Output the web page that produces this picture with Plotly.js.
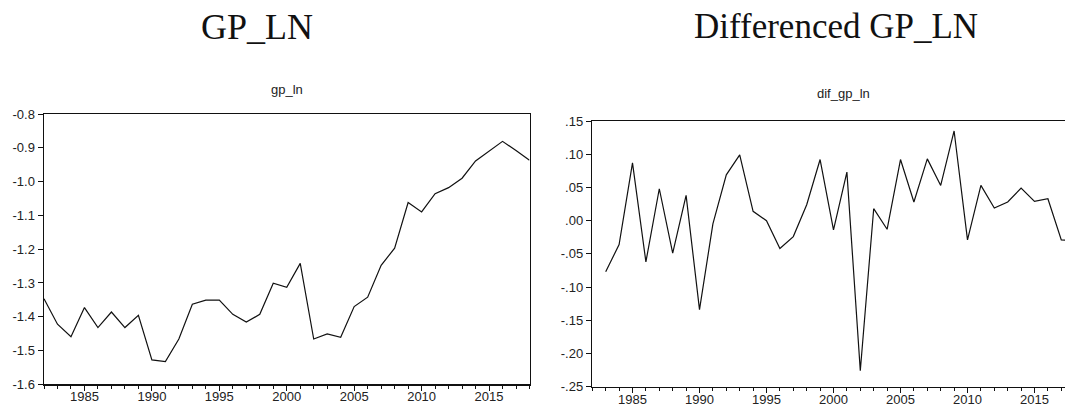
<!DOCTYPE html>
<html>
<head>
<meta charset="utf-8">
<script src="https://cdn.plot.ly/plotly-3.0.1.min.js"></script>
<style>
  html, body { margin: 0; padding: 0; background: #fff; overflow: hidden; }
  #chart { width: 1100px; height: 405px; }
</style>
</head>
<body>
<div id="chart"></div>
<script>
// Annual observations
var years = [1982, 1983, 1984, 1985, 1986, 1987, 1988, 1989, 1990, 1991,
             1992, 1993, 1994, 1995, 1996, 1997, 1998, 1999, 2000, 2001,
             2002, 2003, 2004, 2005, 2006, 2007, 2008, 2009, 2010, 2011,
             2012, 2013, 2014, 2015, 2016, 2017, 2018];

// Log level series
var gpLn = [-1.347, -1.422, -1.459, -1.373, -1.432, -1.386, -1.432, -1.396, -1.528, -1.533,
            -1.466, -1.363, -1.351, -1.351, -1.393, -1.416, -1.393, -1.301, -1.313, -1.242,
            -1.466, -1.451, -1.461, -1.370, -1.342, -1.248, -1.197, -1.062, -1.090, -1.036,
            -1.018, -0.990, -0.939, -0.910, -0.881, -0.908, -0.937];

// First difference (starts one year later)
var difYears = [1983, 1984, 1985, 1986, 1987, 1988, 1989, 1990, 1991,
                1992, 1993, 1994, 1995, 1996, 1997, 1998, 1999, 2000, 2001,
                2002, 2003, 2004, 2005, 2006, 2007, 2008, 2009, 2010, 2011,
                2012, 2013, 2014, 2015, 2016, 2017, 2018];
var difGpLn = [-0.077, -0.036, 0.087, -0.062, 0.048, -0.049, 0.038, -0.134, -0.005,
               0.069, 0.099, 0.014, 0.000, -0.042, -0.024, 0.024, 0.092, -0.014, 0.073,
               -0.226, 0.018, -0.013, 0.092, 0.028, 0.093, 0.053, 0.135, -0.029, 0.053,
               0.019, 0.028, 0.049, 0.029, 0.033, -0.029, -0.030];

// Tick positions
var xTicks = [1985, 1990, 1995, 2000, 2005, 2010, 2015];
var leftYTicks = [-1.6, -1.5, -1.4, -1.3, -1.2, -1.1, -1.0, -0.9, -0.8];
var rightYTicks = [-0.25, -0.20, -0.15, -0.10, -0.05, 0.00, 0.05, 0.10, 0.15];

var W = 1100, H = 405;
function px(x) { return x / W; }
function py(y) { return (H - y) / H; }

// ".15" / "-.05" style labels without the leading zero
var leftYText = leftYTicks.map(function (v) { return v.toFixed(1); });
var rightYText = rightYTicks.map(function (v) {
  return v.toFixed(2).replace('0.', '.');
});

var tickFont = { family: 'Liberation Sans, Arial, sans-serif', size: 13, color: '#222' };

function xAxis(domain, anchor) {
  return {
    domain: domain, anchor: anchor,
    range: [1982, 2018],
    tickvals: xTicks, ticktext: xTicks.map(String),
    ticks: 'outside', ticklen: 5, tickwidth: 1, tickcolor: '#111',
    ticklabelstandoff: -5,
    minor: { dtick: 1, tick0: 1982, ticks: 'outside', ticklen: 3, tickwidth: 1, tickcolor: '#111', showgrid: false },
    showline: true, linecolor: '#111', linewidth: 1.5, mirror: true,
    showgrid: false, zeroline: false,
    tickfont: tickFont
  };
}
function yAxis(domain, anchor, range, vals, text) {
  return {
    domain: domain, anchor: anchor,
    range: range,
    tickvals: vals, ticktext: text,
    ticks: 'outside', ticklen: 5, tickwidth: 1, tickcolor: '#111',
    showline: true, linecolor: '#111', linewidth: 1.5, mirror: true,
    showgrid: false, zeroline: false,
    tickfont: tickFont
  };
}

var traces = [
  { x: years, y: gpLn, type: 'scatter', mode: 'lines', xaxis: 'x', yaxis: 'y',
    line: { color: '#111', width: 1.2 }, hoverinfo: 'x+y' },
  { x: difYears, y: difGpLn, type: 'scatter', mode: 'lines', xaxis: 'x2', yaxis: 'y2',
    line: { color: '#111', width: 1.2 }, hoverinfo: 'x+y' }
];

var layout = {
  width: W, height: H,
  margin: { l: 0, r: 0, t: 0, b: 0 },
  paper_bgcolor: '#fff', plot_bgcolor: '#fff',
  showlegend: false,
  xaxis: xAxis([px(44), px(529.5)], 'y'),
  yaxis: yAxis([py(384.3), py(114)], 'x', [-1.6, -0.8], leftYTicks, leftYText),
  xaxis2: xAxis([px(592.3), px(1074.7)], 'y2'),
  yaxis2: yAxis([py(386.7), py(121)], 'x2', [-0.25, 0.15], rightYTicks, rightYText),
  annotations: [
    { text: 'GP_LN', xref: 'paper', yref: 'paper', x: px(257), y: py(27),
      xanchor: 'center', yanchor: 'middle', showarrow: false,
      font: { family: 'Liberation Serif, serif', size: 36, color: '#111' } },
    { text: 'Differenced GP_LN', xref: 'paper', yref: 'paper', x: px(836), y: py(27),
      xanchor: 'center', yanchor: 'middle', showarrow: false,
      font: { family: 'Liberation Serif, serif', size: 35, color: '#111' } },
    { text: 'gp_ln', xref: 'paper', yref: 'paper', x: px(287), y: py(89),
      xanchor: 'center', yanchor: 'middle', showarrow: false,
      font: { family: 'Liberation Sans, Arial, sans-serif', size: 13, color: '#222' } },
    { text: 'dif_gp_ln', xref: 'paper', yref: 'paper', x: px(843), y: py(94),
      xanchor: 'center', yanchor: 'middle', showarrow: false,
      font: { family: 'Liberation Sans, Arial, sans-serif', size: 13, color: '#222' } }
  ]
};

Plotly.newPlot('chart', traces, layout, { staticPlot: true, displayModeBar: false });
</script>
</body>
</html>
